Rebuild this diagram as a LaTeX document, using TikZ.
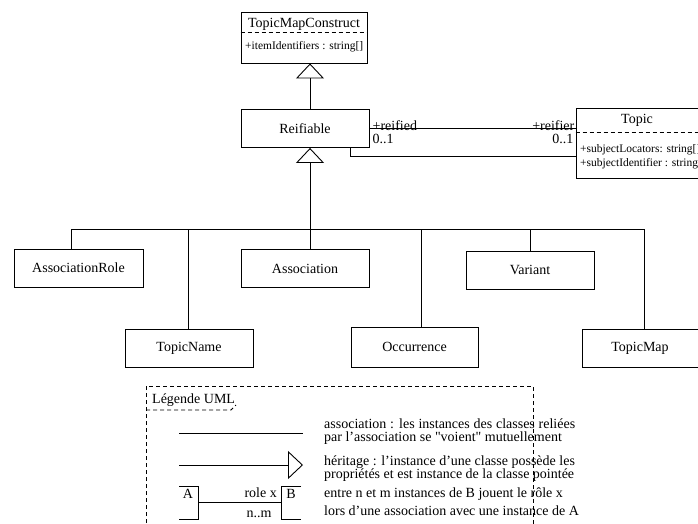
\documentclass[tikz,border=0pt]{standalone}
\usepackage{fontspec}
\setmainfont{Liberation Serif}[Ligatures=TeXOff]
\usetikzlibrary{arrows.meta}

\begin{document}
\begin{tikzpicture}[x=1pt,y=-1pt,
  every node/.style={inner sep=0pt},
  lw/.style={line width=0.9pt},
  namefont/.style={font=\fontsize{14}{14}\selectfont},
  attrfont/.style={font=\fontsize{11.5}{11.5}\selectfont},
  clsbox/.style={draw,lw,minimum width=#1},
  clsbox/.default=128pt,
  cls/.style={draw,lw,namefont,minimum height=38pt},
  sep/.style={lw,dash pattern=on 4pt off 3pt},
  inh/.style={lw,-{Triangle[open,length=15pt,width=28pt,line width=0.9pt]}},
  assoc/.style={lw},
  legtxt/.style={namefont,anchor=base west},
]
\clip (0,0) rectangle (698,524);
\useasboundingbox (0,0) rectangle (698,524);

% --- abstract root class
\node[clsbox=126pt,minimum height=51pt] (tmc) at (304,37.5) {};
\node[namefont] (tmcname) at (304,24) {TopicMapConstruct};
\draw[sep] ([yshift=-21pt]tmc.north west) -- ([yshift=-21pt]tmc.north east);
\node[attrfont,anchor=base west] (tmcattr) at (245,50) {+itemIdentifiers : string[]};

% --- Reifiable
\node[cls,minimum width=128pt] (reif) at (305,128.5) {Reifiable};

% --- Topic (extends past the right border)
\node[clsbox=122pt,minimum height=70pt] (topic) at (637,143) {};
\node[namefont] (topicname) at (637,120) {Topic};
\draw[sep] ([yshift=-25pt]topic.north west) -- ([yshift=-25pt]topic.north east);
\node[attrfont,anchor=base west] (topicattr1) at (580,152) {+subjectLocators: string[]};
\node[attrfont,anchor=base west] (topicattr2) at (580,166) {+subjectIdentifier : string[]};

% --- subclasses of Reifiable
\node[cls,minimum width=129pt] (ar)  at (78.5,268)  {AssociationRole};
\node[cls,minimum width=128pt] (as)  at (305,268.5) {Association};
\node[cls,minimum width=128pt] (va)  at (530,270)   {Variant};
\node[cls,minimum width=128pt] (tn)  at (189,348)   {TopicName};
\node[cls,minimum width=127pt,minimum height=40pt] (oc) at (414.5,347) {Occurrence};
\node[cls,minimum width=116pt] (tm)  at (640,348)   {TopicMap};

% --- generalisation tree
\coordinate (hub) at (310,229);
\draw[lw] (ar.north -| 71,0)  |- (hub);
\draw[lw] (tn.north -| 188,0) |- (hub);
\draw[lw] (as.north -| hub)   -- (hub);
\draw[lw] (oc.north -| 421,0) |- (hub);
\draw[lw] (va.north -| 530,0) |- (hub);
\draw[lw] (tm.north -| 644,0) |- (hub);
\draw[inh] (hub) -- (reif.south -| hub);
\draw[inh] (reif.north -| hub) -- (tmc.south -| hub);

% --- reification association
\coordinate (rtop) at (reif.east -| topic.west);
\draw[assoc] (reif.east) -- (rtop);
\node[namefont,anchor=base west] (lreified) at ([xshift=3pt,yshift=-1.5pt]reif.east) {+reified};
\node[namefont,anchor=north west] (lmult1) at ([xshift=3pt,yshift=-5pt]reif.east) {0..1};
\node[namefont,anchor=base east] (lreifier) at ([xshift=-1pt,yshift=-1.5pt]rtop) {+reifier};
\node[namefont,anchor=north east] (lmult2) at ([xshift=-2pt,yshift=-5pt]rtop) {0..1};
\draw[assoc] (reif.south -| 350,0) |- (topic.west |- 0,156);

% --- legend frame
\draw[lw,dash pattern=on 4pt off 3pt] (146,530) -- (146,386) -- (533,386) -- (533,530);
\node[legtxt] (legtitle) at (152,403) {Légende UML};
\draw[lw,dash pattern=on 4pt off 3pt] (146,410) -- (231,410) -- (236,405);

% association sample
\coordinate (la1) at (179,433);
\coordinate (la2) at (303,433);
\draw[assoc] (la1) -- (la2);
% inheritance sample
\coordinate (li1) at (179,465);
\coordinate (li2) at (303,465);
\draw[inh] (li1) -- (li2);
% role sample
\node[namefont] (lA) at (188,494) {A};
\node[namefont] (lB) at (291,494) {B};
\draw[lw] (179,486) -- (198,486) -- (198,519) -- (179,519);
\draw[lw] (301,486) -- (281,486) -- (281,519) -- (301,519);
\coordinate (lra) at (198,502);
\coordinate (lrb) at (281,502);
\draw[assoc] (lra) -- (lrb);
\node[namefont,anchor=base east] (lrole) at (277,497) {role x};
\node[namefont,anchor=base] (lnm) at (259,517) {n..m};

% legend texts
\node[legtxt] (t1) at (324,428.5) {\makebox[251pt][s]{association : les instances des classes reliées}};
\node[legtxt] (t2) at (324,441) {par l’association se "voient" mutuellement};
\node[legtxt] (t3) at (324,465.5) {héritage : l’instance d’une classe possède les};
\node[legtxt] (t4) at (324,478) {propriétés et est instance de la classe pointée};
\node[legtxt] (t5) at (324,497.5) {entre n et m instances de B jouent le rôle x};
\node[legtxt] (t6) at (324,515.5) {lors d’une association avec une instance de A};
\end{tikzpicture}
\end{document}
